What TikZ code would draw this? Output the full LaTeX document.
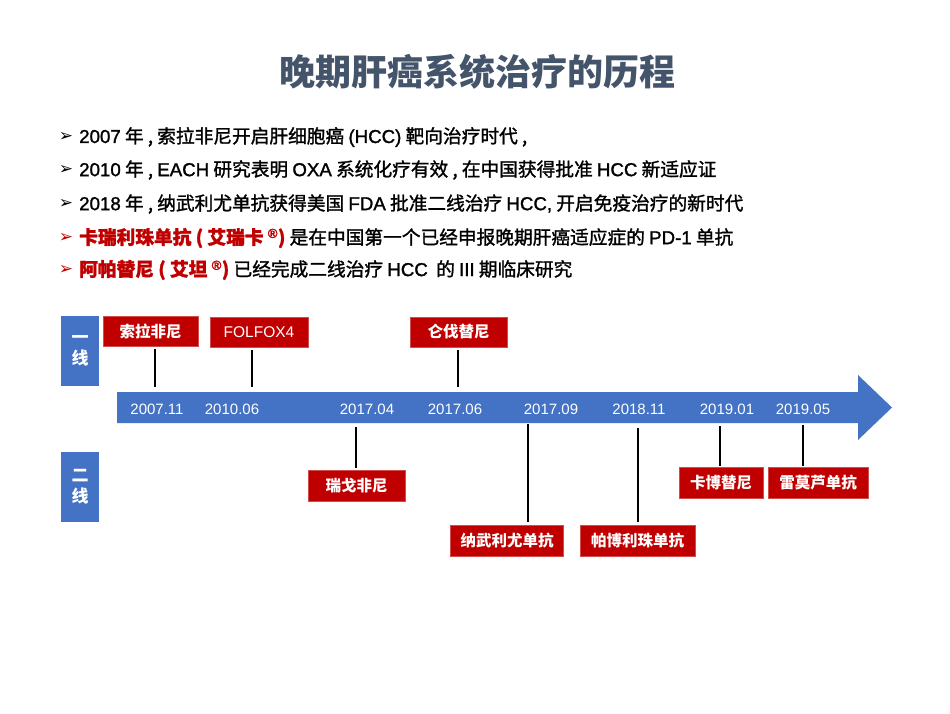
\documentclass[tikz,border=0pt]{standalone}
\usepackage{fontspec}
\setmainfont{Noto Sans CJK SC}
\newfontfamily\en{Liberation Sans}
\newfontfamily\med{Noto Sans CJK SC}[FakeBold=1.4]
\newfontfamily\enmed{Liberation Sans}[FakeBold=1.4]
\newfontfamily\sym{DejaVu Sans}
\definecolor{titlegray}{HTML}{44546A}
\definecolor{tlblue}{HTML}{4472C4}
\definecolor{tlred}{HTML}{C00000}
\begin{document}
\begin{tikzpicture}[
    x=1pt, y=-1pt,
    bullet/.style={anchor=west, inner sep=0pt, font=\med\fontsize{18.7}{22}\selectfont},
    bulletmark/.style={inner sep=0pt, font=\sym\fontsize{17}{19}\selectfont},
    side/.style={fill=tlblue, text=white, minimum width=38pt, minimum height=70pt, inner sep=0pt, align=center, font=\bfseries\fontsize{17}{21}\selectfont},
    drug/.style={fill=tlred, draw=tlred!70!white, text=white, minimum height=30pt, inner sep=0pt, font=\bfseries\fontsize{15.5}{18}\selectfont},
    date/.style={text=white, inner sep=0pt, font=\en\fontsize{15}{18}\selectfont},
    tick/.style={line width=2.6pt},
]
\useasboundingbox (0,0) rectangle (950,713);
\node[text=titlegray, font=\bfseries\fontsize{36}{40}\selectfont] (title) at (477,72) {晚期肝癌系统治疗的历程};

\node[bulletmark] (m1) at (66,137) {➢};
\node[bulletmark] (m2) at (66,170) {➢};
\node[bulletmark] (m3) at (66,204) {➢};
\node[bulletmark, text=tlred] (m4) at (66,238) {➢};
\node[bulletmark, text=tlred] (m5) at (66,270) {➢};
\node[bullet] (b1) at (79,137) {{\enmed 2007} 年 , 索拉非尼开启肝细胞癌 {\enmed (HCC)} 靶向治疗时代 ,};
\node[bullet] (b2) at (79,170) {{\enmed 2010} 年 , {\enmed EACH} 研究表明 {\enmed OXA} 系统化疗有效 , 在中国获得批准 {\enmed HCC} 新适应证};
\node[bullet] (b3) at (79,204) {{\enmed 2018} 年 , 纳武利尤单抗获得美国 {\enmed FDA} 批准二线治疗 {\enmed HCC,} 开启免疫治疗的新时代};
\node[bullet] (b4) at (79,238) {\textcolor{tlred}{\bfseries 卡瑞利珠单抗 ( 艾瑞卡 {\enmed\textsuperscript{®}})} 是在中国第一个已经申报晚期肝癌适应症的 {\enmed PD-1} 单抗};
\node[bullet] (b5) at (79,270) {\textcolor{tlred}{\bfseries 阿帕替尼 ( 艾坦 {\enmed\textsuperscript{®}})} 已经完成二线治疗 {\enmed HCC} \ 的 {\enmed III} 期临床研究};

\node[side] (first) at (80,351) {一\\线};
\node[side] (second) at (80,487) {二\\线};

\fill[tlblue] (117,392) -- (858,392) -- (858,375) -- (892,407.5) -- (858,440) -- (858,423) -- (117,423) -- cycle;

\node[date] (d1) at (157,409) {2007.11};
\node[date] (d2) at (232,409) {2010.06};
\node[date] (d3) at (367,409) {2017.04};
\node[date] (d4) at (455,409) {2017.06};
\node[date] (d5) at (551,409) {2017.09};
\node[date] (d6) at (639,409) {2018.11};
\node[date] (d7) at (727,409) {2019.01};
\node[date] (d8) at (803,409) {2019.05};

\node[drug, minimum width=95pt] (sora) at (150.5,331) {索拉非尼};
\node[drug, minimum width=98pt, font=\en\fontsize{15.5}{18}\selectfont] (folfox) at (259,332) {FOLFOX4};
\node[drug, minimum width=97pt] (lenva) at (458.5,332) {仑伐替尼};
\node[drug, minimum width=97pt, minimum height=31pt] (rego) at (356.5,485.5) {瑞戈非尼};
\node[drug, minimum width=113pt, minimum height=31pt] (nivo) at (507,540.5) {纳武利尤单抗};
\node[drug, minimum width=115pt, minimum height=31pt] (pembro) at (637.5,540.5) {帕博利珠单抗};
\node[drug, minimum width=84pt, minimum height=31pt] (cabo) at (721,482.5) {卡博替尼};
\node[drug, minimum width=100pt, minimum height=31pt] (ramu) at (818,482.5) {雷莫芦单抗};

\coordinate (t1) at (155,387);
\coordinate (t2) at (252,387);
\coordinate (t3) at (458,387);
\coordinate (t4) at (356,427);
\coordinate (t5) at (528,424);
\coordinate (t6) at (638,428);
\coordinate (t7) at (720,426);
\coordinate (t8) at (803,425);
\draw[tick, shorten >=3pt] (t1) -- (t1 |- sora.south);
\draw[tick, shorten >=3pt] (t2) -- (t2 |- folfox.south);
\draw[tick, shorten >=3pt] (t3) -- (t3 |- lenva.south);
\draw[tick, shorten >=2pt] (t4) -- (t4 |- rego.north);
\draw[tick, shorten >=3pt] (t5) -- (t5 |- nivo.north);
\draw[tick, shorten >=3pt] (t6) -- (t6 |- pembro.north);
\draw[tick, shorten >=1pt] (t7) -- (t7 |- cabo.north);
\draw[tick, shorten >=1pt] (t8) -- (t8 |- ramu.north);
\end{tikzpicture}
\end{document}
